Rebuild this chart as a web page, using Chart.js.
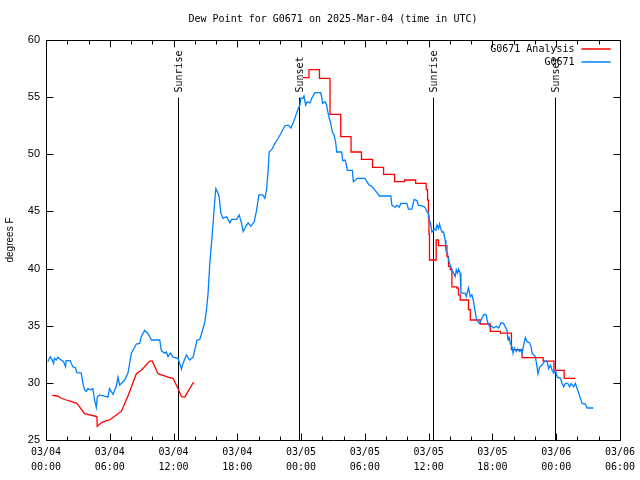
<!DOCTYPE html>
<html>
<head>
<meta charset="utf-8">
<script src="https://cdn.jsdelivr.net/npm/chart.js@4.4.1/dist/chart.umd.min.js"></script>
<style>
  html, body { margin: 0; padding: 0; background: #fff; }
</style>
</head>
<body>
<canvas id="dew" width="640" height="480"></canvas>
<script>
// hours since 03/04 00:00 UTC
var obsHours = [0.17,0.40,0.58,0.71,0.80,0.96,1.11,1.43,1.65,1.84,1.90,2.28,2.38,2.53,2.78,2.90,3.32,3.47,3.63,3.79,3.94,4.17,4.41,4.57,4.73,4.83,5.04,5.67,5.82,5.98,6.30,6.62,6.77,6.93,7.40,7.71,7.87,8.03,8.50,8.81,8.97,9.28,9.59,9.75,9.92,10.70,10.86,11.17,11.33,11.48,11.71,11.95,12.42,12.58,12.74,12.89,13.21,13.52,13.84,14.00,14.21,14.47,14.63,14.94,15.10,15.25,15.41,15.57,15.72,15.88,15.98,16.14,16.29,16.45,16.66,16.98,17.30,17.46,17.93,18.17,18.40,18.55,18.80,19.02,19.27,19.59,19.81,20.03,20.38,20.59,20.75,20.90,21.00,21.23,21.54,21.85,22.17,22.48,22.79,23.04,23.26,23.52,23.73,23.89,23.96,24.15,24.27,24.43,24.58,24.84,25.00,25.31,25.84,25.94,26.03,26.25,26.41,26.47,26.65,26.79,26.94,27.10,27.26,27.35,27.82,27.92,28.13,28.23,28.35,28.82,28.92,29.29,30.02,30.18,30.42,30.65,30.87,31.18,31.37,32.44,32.54,32.85,33.01,33.22,33.38,33.95,34.10,34.42,34.64,34.89,35.04,35.51,35.67,35.83,35.98,36.08,36.21,36.31,36.46,36.52,36.68,36.78,36.93,37.02,37.15,37.24,37.40,37.56,37.62,37.77,37.87,38.03,38.19,38.34,38.50,38.60,38.72,38.81,38.97,39.04,39.44,39.54,39.66,39.75,39.92,40.07,40.23,40.29,40.39,40.48,40.64,40.79,41.02,41.17,41.23,41.42,41.55,41.74,41.96,42.11,42.37,42.58,42.81,43.05,43.21,43.37,43.47,43.56,43.69,43.85,43.94,44.06,44.25,44.37,44.56,44.69,44.79,44.94,45.10,45.26,45.50,45.64,45.73,46.04,46.20,46.29,46.45,46.67,46.92,47.14,47.29,47.46,47.62,47.77,47.93,48.09,48.40,48.56,48.71,48.87,49.09,49.27,49.41,49.65,49.81,49.97,50.12,50.28,50.44,50.75,50.91,51.48];
var obsDew = [31.85,32.3,32.0,31.7,32.15,32.0,32.25,32.0,31.85,31.4,31.95,31.95,31.7,31.4,31.3,30.9,30.85,29.95,29.4,29.25,29.5,29.4,29.5,28.5,27.85,28.75,28.95,28.8,28.75,29.5,29.0,29.7,30.5,29.8,30.25,30.85,31.7,32.6,33.4,33.45,34.05,34.6,34.3,34.05,33.75,33.75,32.8,32.6,32.7,32.3,32.6,32.25,32.15,31.7,31.2,31.7,32.45,32.0,32.25,32.9,33.75,33.8,34.3,35.3,36.4,37.85,40.45,42.2,43.95,46.0,47.0,46.7,46.3,44.85,44.4,44.55,44.0,44.3,44.3,44.7,43.95,43.25,43.7,44.0,43.7,44.1,45.1,46.45,46.45,46.15,46.9,48.6,50.2,50.4,50.95,51.4,51.95,52.5,52.55,52.3,52.75,53.45,54.0,54.3,54.9,54.9,55.1,54.3,54.6,54.5,54.9,55.4,55.4,55.0,54.45,54.6,54.3,53.9,53.15,52.7,51.95,51.7,51.0,50.2,50.2,49.45,49.5,49.2,48.6,48.6,47.6,47.9,47.9,47.6,47.3,47.2,46.95,46.6,46.35,46.35,45.55,45.35,45.55,45.35,45.7,45.7,45.2,45.2,46.05,45.95,45.55,45.45,45.35,45.0,44.85,44.25,43.8,43.2,43.35,43.5,43.35,43.8,43.5,43.9,43.5,43.2,43.2,42.5,41.6,41.35,40.75,40.3,39.9,39.6,39.3,39.9,39.6,39.95,39.6,37.85,37.85,37.55,38.0,38.3,37.55,37.7,37.1,36.65,36.2,35.65,35.35,35.2,35.65,35.95,36.0,35.95,35.3,34.9,34.95,34.8,34.95,34.8,35.25,35.2,34.9,34.6,33.75,34.05,33.45,33.15,32.6,33.05,32.75,32.95,32.75,32.9,32.6,33.3,33.95,33.6,33.5,33.15,32.6,32.3,31.4,30.8,31.4,31.55,31.9,31.9,31.25,31.55,31.1,30.85,31.1,30.5,30.4,29.95,29.65,29.95,29.95,29.65,29.95,29.65,29.95,29.5,29.1,28.65,28.2,28.15,27.8,27.8];

// analysis, first day (smooth line)
var anaHoursA = [0.58,1.11,1.43,1.90,2.43,2.90,3.16,3.63,4.10,4.57,4.79,4.82,5.20,5.67,5.98,6.77,7.09,7.71,8.50,8.97,9.75,10.00,10.54,11.48,11.95,12.42,12.74,13.05,13.84,13.95];
var anaDewA = [28.9,28.85,28.65,28.5,28.35,28.2,27.9,27.3,27.2,27.1,27.05,26.2,26.5,26.7,26.75,27.3,27.5,28.85,30.8,31.1,31.9,31.9,30.8,30.5,30.4,29.5,28.8,28.75,30.0,30.0];

// analysis, from sunset on (hourly steps)
var anaHoursB = [24.15,24.74,25.73,26.72,27.73,28.70,29.68,30.72,31.76,32.80,33.74,34.78,35.77,35.90,35.98,36.03,36.08,36.71,36.93,37.72,37.87,38.03,38.19,38.66,38.81,38.97,39.75,39.92,40.86,41.80,42.75,43.79,44.79,46.77,47.79,48.75,49.81];
var anaDewB = [56.7,57.4,56.65,53.5,51.55,50.2,49.55,48.85,48.25,47.6,47.75,47.45,46.9,46.0,44.5,43.0,40.75,42.5,42.0,41.05,40.2,39.9,38.4,38.3,37.7,37.25,36.4,35.5,35.15,34.5,34.35,32.9,32.2,31.9,31.1,30.4,30.4];

var sunHours = [12.4, 23.85, 36.42, 47.9];
var sunLabels = ['Sunrise', 'Sunset', 'Sunrise', 'Sunset'];

var yTicks = [25, 30, 35, 40, 45, 50, 55, 60];

function pts(xs, ys) {
  return xs.map(function (x, i) { return { x: x, y: ys[i] }; });
}

var mono = 'DejaVu Sans Mono';

// gnuplot-ish frame, inward ticks, sun lines and legend
var framePlugin = {
  id: 'frame',
  beforeDatasetsDraw: function (chart) {
    var ctx = chart.ctx, a = chart.chartArea;
    var xs = chart.scales.x, ys = chart.scales.y;
    ctx.save();
    ctx.strokeStyle = '#000';
    ctx.lineWidth = 1;
    ctx.fillStyle = '#000';
    ctx.font = '10px "' + mono + '"';
    var top = Math.round(ys.getPixelForValue(55)) + 0.5;
    sunHours.forEach(function (h, i) {
      var px = Math.round(xs.getPixelForValue(h)) + 0.5;
      ctx.beginPath();
      ctx.moveTo(px, top);
      ctx.lineTo(px, a.bottom);
      ctx.stroke();
      ctx.save();
      ctx.translate(px + 1, top - 5);
      ctx.rotate(-Math.PI / 2);
      ctx.textAlign = 'left';
      ctx.textBaseline = 'middle';
      ctx.fillText(sunLabels[i], 0, 0);
      ctx.restore();
    });
    ctx.restore();
  },
  afterDraw: function (chart) {
    var ctx = chart.ctx, a = chart.chartArea;
    var xs = chart.scales.x, ys = chart.scales.y;
    var l = Math.round(a.left) + 0.5, r = Math.round(a.right) + 0.5;
    var t = Math.round(a.top) + 0.5, b = Math.round(a.bottom) + 0.5;
    ctx.save();
    ctx.strokeStyle = '#000';
    ctx.lineWidth = 1;
    ctx.beginPath();
    ctx.rect(l, t, r - l, b - t);
    // x ticks every 2 h, long every 6 h
    for (var h = 0; h <= 54; h += 2) {
      var px = Math.round(xs.getPixelForValue(h)) + 0.5;
      var len = (h % 6 === 0) ? 7 : 4;
      ctx.moveTo(px, b); ctx.lineTo(px, b - len);
      ctx.moveTo(px, t); ctx.lineTo(px, t + len);
    }
    yTicks.forEach(function (v) {
      var py = Math.round(ys.getPixelForValue(v)) + 0.5;
      ctx.moveTo(l, py); ctx.lineTo(l + 7, py);
      ctx.moveTo(r, py); ctx.lineTo(r - 7, py);
    });
    ctx.stroke();

    // legend
    ctx.font = '10px "' + mono + '"';
    ctx.textAlign = 'right';
    ctx.textBaseline = 'middle';
    ctx.lineWidth = 1.5;
    var rows = chart.data.datasets.filter(function (d) { return d.label; });
    rows.forEach(function (d, i) {
      var y = Math.round(a.top + 9 + i * 13);
      ctx.fillStyle = '#000';
      ctx.fillText(d.label, r - 46, y);
      ctx.strokeStyle = d.borderColor;
      ctx.beginPath();
      ctx.moveTo(r - 39, y);
      ctx.lineTo(r - 10, y);
      ctx.stroke();
    });
    ctx.restore();
  }
};

var ctx = document.getElementById('dew').getContext('2d');
var chart = new Chart(ctx, {
  type: 'line',
  data: {
    datasets: [{
      label: 'G0671 Analysis',
      borderColor: '#ff0000',
      backgroundColor: '#ff0000',
      borderWidth: 1.3,
      pointRadius: 0,
      tension: 0,
      data: pts(anaHoursA, anaDewA)
    }, {
      label: 'G0671',
      borderColor: '#0080ff',
      backgroundColor: '#0080ff',
      borderWidth: 1.3,
      pointRadius: 0,
      tension: 0,
      data: pts(obsHours, obsDew)
    }, {
      label: '',
      borderColor: '#ff0000',
      backgroundColor: '#ff0000',
      borderWidth: 1.3,
      pointRadius: 0,
      stepped: 'before',
      data: pts(anaHoursB, anaDewB)
    }]
  },
  options: {
    responsive: false,
    animation: false,
    devicePixelRatio: 1,
    layout: { padding: { left: 0, right: 20, top: 0, bottom: 0 } },
    plugins: {
      legend: { display: false },
      tooltip: { enabled: false },
      title: {
        display: true,
        fullSize: false,
        text: 'Dew Point for G0671 on 2025-Mar-04 (time in UTC)',
        color: '#000',
        font: { family: mono, size: 10, weight: 'normal', lineHeight: 1.2 },
        padding: { top: 13, bottom: 15 }
      }
    },
    scales: {
      x: {
        type: 'linear',
        min: 0,
        max: 54,
        grid: { display: false, drawTicks: false },
        border: { display: false },
        afterFit: function (s) { s.height = 40; },
        ticks: {
          stepSize: 6,
          autoSkip: false,
          maxRotation: 0,
          padding: 5,
          color: '#000',
          font: { family: mono, size: 10, lineHeight: 1.5 },
          callback: function (v) {
            var day = 4 + Math.floor(v / 24);
            var hr = v % 24;
            return ['03/0' + day, (hr < 10 ? '0' : '') + hr + ':00'];
          }
        }
      },
      y: {
        min: 25,
        max: 60,
        grid: { display: false, drawTicks: false },
        border: { display: false },
        afterFit: function (s) { s.width = 46; },
        title: {
          display: true,
          text: 'degrees F',
          color: '#000',
          font: { family: 'Liberation Sans', size: 10 },
          padding: { top: 4, bottom: 4 }
        },
        ticks: {
          stepSize: 5,
          padding: 6,
          color: '#000',
          font: { family: 'Liberation Sans', size: 11 }
        }
      }
    }
  },
  plugins: [framePlugin]
});
</script>
</body>
</html>
